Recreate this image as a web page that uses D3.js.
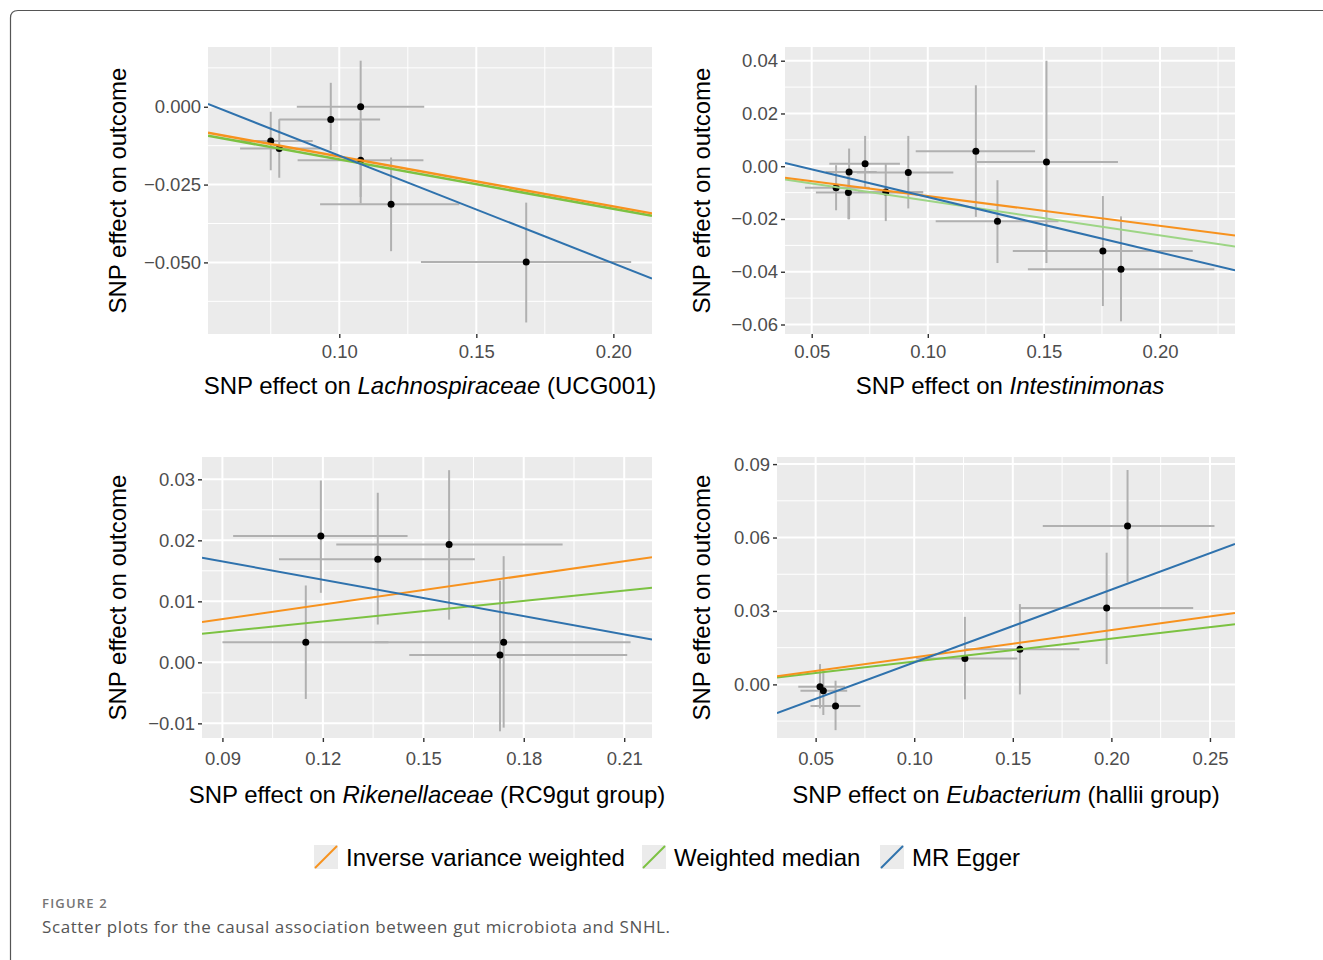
<!DOCTYPE html>
<html>
<head>
<meta charset="utf-8">
<script src="https://cdn.jsdelivr.net/npm/d3@7"></script>
<style>
  body { margin: 0; background: #fff; }
  svg { display: block; }
</style>
</head>
<body>
<script>
// MR scatter plots: SNP effect on exposure vs SNP effect on outcome

// legend / method names
const methods = ['Inverse variance weighted', 'Weighted median', 'MR Egger'];

// each SNP: beta exposure, beta outcome, x CI low/high, y CI low/high
const lachnoSnps = [
  [0.0750, -0.0110, 0.0640, 0.0903, -0.0016, -0.0204],
  [0.0781, -0.0134, 0.0638, 0.0930, -0.0040, -0.0228],
  [0.0969, -0.0041, 0.0781, 0.1149, 0.0077, -0.0139],
  [0.1078, 0.0000, 0.0845, 0.1310, 0.0148, -0.0311],
  [0.1078, -0.0172, 0.0848, 0.1307, -0.0050, -0.0290],
  [0.1189, -0.0313, 0.0930, 0.1438, -0.0163, -0.0464],
  [0.1682, -0.0499, 0.1298, 0.2065, -0.0308, -0.0693]
];
const intestSnps = [
  [0.0605, -0.0082, 0.0471, 0.0750, 0.0004, -0.0167],
  [0.0661, -0.0022, 0.0560, 0.0780, 0.0067, -0.0201],
  [0.0658, -0.0100, 0.0518, 0.0980, -0.0015, -0.0201],
  [0.0730, 0.0009, 0.0576, 0.0880, 0.0115, -0.0079],
  [0.0819, -0.0098, 0.0700, 0.0980, 0.0010, -0.0208],
  [0.0916, -0.0024, 0.0694, 0.1110, 0.0115, -0.0160],
  [0.1207, 0.0057, 0.0948, 0.1462, 0.0307, -0.0192],
  [0.1300, -0.0209, 0.1034, 0.1563, -0.0053, -0.0367],
  [0.1511, 0.0016, 0.1211, 0.1819, 0.0400, -0.0367],
  [0.1754, -0.0321, 0.1366, 0.2141, -0.0113, -0.0530],
  [0.1832, -0.0391, 0.1431, 0.2234, -0.0190, -0.0588]
];
const rikenSnps = [
  [0.1194, 0.0207, 0.0932, 0.1453, 0.0298, 0.0114],
  [0.1364, 0.0169, 0.1069, 0.1654, 0.0278, 0.0062],
  [0.1577, 0.0193, 0.1240, 0.1916, 0.0315, 0.0070],
  [0.1149, 0.0033, 0.0900, 0.1396, 0.0126, -0.0060],
  [0.1740, 0.0033, 0.1355, 0.2119, 0.0174, -0.0107],
  [0.1729, 0.0012, 0.1458, 0.2109, 0.0134, -0.0113]
];
const eubacSnps = [
  [0.0522, -0.0010, 0.0412, 0.0649, 0.0083, -0.0098],
  [0.0539, -0.0026, 0.0423, 0.0660, 0.0058, -0.0125],
  [0.0601, -0.0088, 0.0474, 0.0727, 0.0015, -0.0187],
  [0.1257, 0.0106, 0.1010, 0.1523, 0.0276, -0.0061],
  [0.1536, 0.0144, 0.1263, 0.1838, 0.0328, -0.0041],
  [0.1976, 0.0312, 0.1536, 0.2415, 0.0538, 0.0083],
  [0.2082, 0.0647, 0.1652, 0.2523, 0.0876, 0.0417]
];

// fitted lines per method: [slope, intercept] (IVW, WM, Egger)
const lachnoFits = [[-0.160, 0.0000], [-0.159, -0.0010], [-0.346, 0.0189]];
const intestFits = [[-0.113, 0.0000], [-0.131, 0.0000], [-0.210, 0.0093]];
const rikenFits  = [[0.079, 0.0000], [0.056, 0.0000], [-0.0996, 0.0255]];
const eubacFits  = [[0.111, 0.0000], [0.0935, 0.0000], [0.2976, -0.0208]];

// tick values and labels
const lachnoXTicks = [0.10, 0.15, 0.20];
const lachnoYTicks = [0, -0.025, -0.05];
const lachnoYLabels = ['0.000', '\u22120.025', '\u22120.050'];
const intestXTicks = [0.05, 0.10, 0.15, 0.20];
const intestYTicks = [0.04, 0.02, 0, -0.02, -0.04, -0.06];
const intestYLabels = ['0.04', '0.02', '0.00', '\u22120.02', '\u22120.04', '\u22120.06'];
const rikenXTicks = [0.09, 0.12, 0.15, 0.18, 0.21];
const rikenYTicks = [0.03, 0.02, 0.01, 0, -0.01];
const rikenYLabels = ['0.03', '0.02', '0.01', '0.00', '\u22120.01'];
const eubacXTicks = [0.05, 0.10, 0.15, 0.20, 0.25];
const eubacYTicks = [0.09, 0.06, 0.03, 0];
const eubacYLabels = ['0.09', '0.06', '0.03', '0.00'];

const width = 1323, height = 960;
const colors = ['#f7921e', '#7cc242', '#2f72ad'];
const font = '"Liberation Sans", Arial, sans-serif';

const panels = [
  { snps: lachnoSnps, fits: lachnoFits, xt: lachnoXTicks, yt: lachnoYTicks, yl: lachnoYLabels,
    box: {l: 208, r: 652, t: 47, b: 334}, xd: [0.0521, 0.2141], yd: [-0.0730, 0.0192],
    title: ['SNP effect on ', 'Lachnospiraceae', ' (UCG001)'], ytx: 118, fitW: [2.4, 2.6, 2],
    tickPad: 7, titleOff: 60 },
  { snps: intestSnps, fits: intestFits, xt: intestXTicks, yt: intestYTicks, yl: intestYLabels,
    box: {l: 785, r: 1235, t: 47, b: 334}, xd: [0.0385, 0.2323], yd: [-0.0636, 0.0452],
    title: ['SNP effect on ', 'Intestinimonas', ''], ytx: 702, fitW: [2, 2, 2], wmColor: '#9dd585',
    tickPad: 7, titleOff: 60 },
  { snps: rikenSnps, fits: rikenFits, xt: rikenXTicks, yt: rikenYTicks, yl: rikenYLabels,
    box: {l: 202, r: 652, t: 457, b: 738}, xd: [0.0839, 0.2183], yd: [-0.0124, 0.03366],
    title: ['SNP effect on ', 'Rikenellaceae', ' (RC9gut group)'], ytx: 118, fitW: [2, 2, 2],
    tickPad: 10, titleOff: 65 },
  { snps: eubacSnps, fits: eubacFits, xt: eubacXTicks, yt: eubacYTicks, yl: eubacYLabels,
    box: {l: 777, r: 1235, t: 457, b: 738}, xd: [0.0304, 0.2627], yd: [-0.0219, 0.0929],
    title: ['SNP effect on ', 'Eubacterium', ' (hallii group)'], ytx: 702, fitW: [2, 2, 2],
    tickPad: 10, titleOff: 65 }
];

const svg = d3.select('body').append('svg')
  .attr('width', width)
  .attr('height', height);

// page frame
svg.append('path')
  .attr('d', `M10.5,${height} V18 Q10.5,10.5 18,10.5 H${width}`)
  .attr('fill', 'none')
  .attr('stroke', '#555')
  .attr('stroke-width', 1.2);

// midpoints between major ticks, plus one step outside each end
function minors(ticks) {
  const s = ticks.slice().sort((a, b) => a - b);
  const step = s[1] - s[0];
  const out = [s[0] - step / 2];
  for (let i = 0; i < s.length - 1; i++) out.push((s[i] + s[i + 1]) / 2);
  out.push(s[s.length - 1] + step / 2);
  return out;
}

panels.forEach((p, pi) => {
  const {l, r, t, b} = p.box;
  const x = d3.scaleLinear().domain(p.xd).range([l, r]);
  const y = d3.scaleLinear().domain(p.yd).range([b, t]);

  const g = svg.append('g');
  const clipId = 'clip' + pi;
  g.append('clipPath').attr('id', clipId)
    .append('rect').attr('x', l).attr('y', t).attr('width', r - l).attr('height', b - t);

  g.append('rect')
    .attr('x', l).attr('y', t)
    .attr('width', r - l).attr('height', b - t)
    .attr('fill', '#ebebeb');

  const grid = g.append('g').attr('clip-path', `url(#${clipId})`).attr('stroke', '#fff');
  // minor grid
  grid.selectAll('.vmin').data(minors(p.xt)).join('line')
    .attr('class', 'vmin')
    .attr('x1', d => x(d)).attr('x2', d => x(d)).attr('y1', t).attr('y2', b)
    .attr('stroke-width', 1);
  grid.selectAll('.hmin').data(minors(p.yt)).join('line')
    .attr('class', 'hmin')
    .attr('y1', d => y(d)).attr('y2', d => y(d)).attr('x1', l).attr('x2', r)
    .attr('stroke-width', 1);
  // major grid
  grid.selectAll('.vmaj').data(p.xt).join('line')
    .attr('class', 'vmaj')
    .attr('x1', d => x(d)).attr('x2', d => x(d)).attr('y1', t).attr('y2', b)
    .attr('stroke-width', 2);
  grid.selectAll('.hmaj').data(p.yt).join('line')
    .attr('class', 'hmaj')
    .attr('y1', d => y(d)).attr('y2', d => y(d)).attr('x1', l).attr('x2', r)
    .attr('stroke-width', 2);

  const plot = g.append('g').attr('clip-path', `url(#${clipId})`);

  // error bars
  plot.selectAll('.eh').data(p.snps).join('line')
    .attr('class', 'eh')
    .attr('x1', d => x(d[2])).attr('x2', d => x(d[3]))
    .attr('y1', d => y(d[1])).attr('y2', d => y(d[1]))
    .attr('stroke', '#b0b0b0').attr('stroke-width', 2);
  plot.selectAll('.ev').data(p.snps).join('line')
    .attr('class', 'ev')
    .attr('x1', d => x(d[0])).attr('x2', d => x(d[0]))
    .attr('y1', d => y(d[4])).attr('y2', d => y(d[5]))
    .attr('stroke', '#b0b0b0').attr('stroke-width', 2);

  // points
  plot.selectAll('circle').data(p.snps).join('circle')
    .attr('cx', d => x(d[0])).attr('cy', d => y(d[1]))
    .attr('r', 3.5).attr('fill', '#000');

  // fitted lines (WM, IVW, Egger drawing order)
  [1, 0, 2].forEach(mi => {
    const [slope, icpt] = p.fits[mi];
    const col = (mi === 1 && p.wmColor) ? p.wmColor : colors[mi];
    plot.append('line')
      .attr('x1', x(p.xd[0])).attr('y1', y(icpt + slope * p.xd[0]))
      .attr('x2', x(p.xd[1])).attr('y2', y(icpt + slope * p.xd[1]))
      .attr('stroke', col)
      .attr('stroke-width', p.fitW[mi]);
  });

  // axes
  const xAxis = d3.axisBottom(x).tickValues(p.xt).tickFormat(d3.format('.2f'))
    .tickSize(4).tickPadding(p.tickPad);
  const gx = g.append('g').attr('transform', `translate(0,${b})`).call(xAxis);
  const yAxis = d3.axisLeft(y).tickValues(p.yt).tickFormat((d, i) => p.yl[i])
    .tickSize(4).tickPadding(3);
  const gy = g.append('g').attr('transform', `translate(${l},0)`).call(yAxis);
  [gx, gy].forEach(a => {
    a.attr('font-family', font);
    a.select('.domain').remove();
    a.selectAll('.tick line').attr('stroke', '#333').attr('stroke-width', 1.4);
    a.selectAll('.tick text')
      .attr('fill', '#4d4d4d')
      .style('font-family', font)
      .style('font-size', '18.5px');
  });

  // x title
  const xt = g.append('text')
    .attr('x', (l + r) / 2)
    .attr('y', b + p.titleOff)
    .attr('text-anchor', 'middle')
    .style('font-family', font)
    .style('font-size', '24px')
    .attr('fill', '#000');
  xt.append('tspan').text(p.title[0]);
  xt.append('tspan').style('font-style', 'italic').text(p.title[1]);
  if (p.title[2]) xt.append('tspan').text(p.title[2]);

  // y title
  g.append('text')
    .attr('transform', `translate(${p.ytx + 8},${(t + b) / 2}) rotate(-90)`)
    .attr('text-anchor', 'middle')
    .style('font-family', font)
    .style('font-size', '24px')
    .attr('fill', '#000')
    .text('SNP effect on outcome');
});

// legend
const legendX = [314, 642, 880];
const lg = svg.append('g');
methods.forEach((m, i) => {
  const gx = legendX[i];
  lg.append('rect')
    .attr('x', gx).attr('y', 845)
    .attr('width', 24).attr('height', 24)
    .attr('fill', '#ebebeb');
  lg.append('line')
    .attr('x1', gx + 1).attr('y1', 868)
    .attr('x2', gx + 23).attr('y2', 846)
    .attr('stroke', colors[i]).attr('stroke-width', 2);
  lg.append('text')
    .attr('x', gx + 32).attr('y', 866)
    .style('font-family', font)
    .style('font-size', '24px')
    .attr('fill', '#000')
    .text(m);
});

// caption
svg.append('text')
  .attr('x', 42).attr('y', 908)
  .style('font-family', '"Open Sans", "Noto Sans", sans-serif')
  .style('font-size', '13px')
  .style('font-weight', 600)
  .style('letter-spacing', '1.2px')
  .attr('fill', '#757575')
  .text('FIGURE 2');
svg.append('text')
  .attr('x', 42).attr('y', 933)
  .style('font-family', '"Open Sans", "Noto Sans", sans-serif')
  .style('font-size', '17px')
  .style('letter-spacing', '0.6px')
  .attr('fill', '#555')
  .text('Scatter plots for the causal association between gut microbiota and SNHL.');
</script>
</body>
</html>
